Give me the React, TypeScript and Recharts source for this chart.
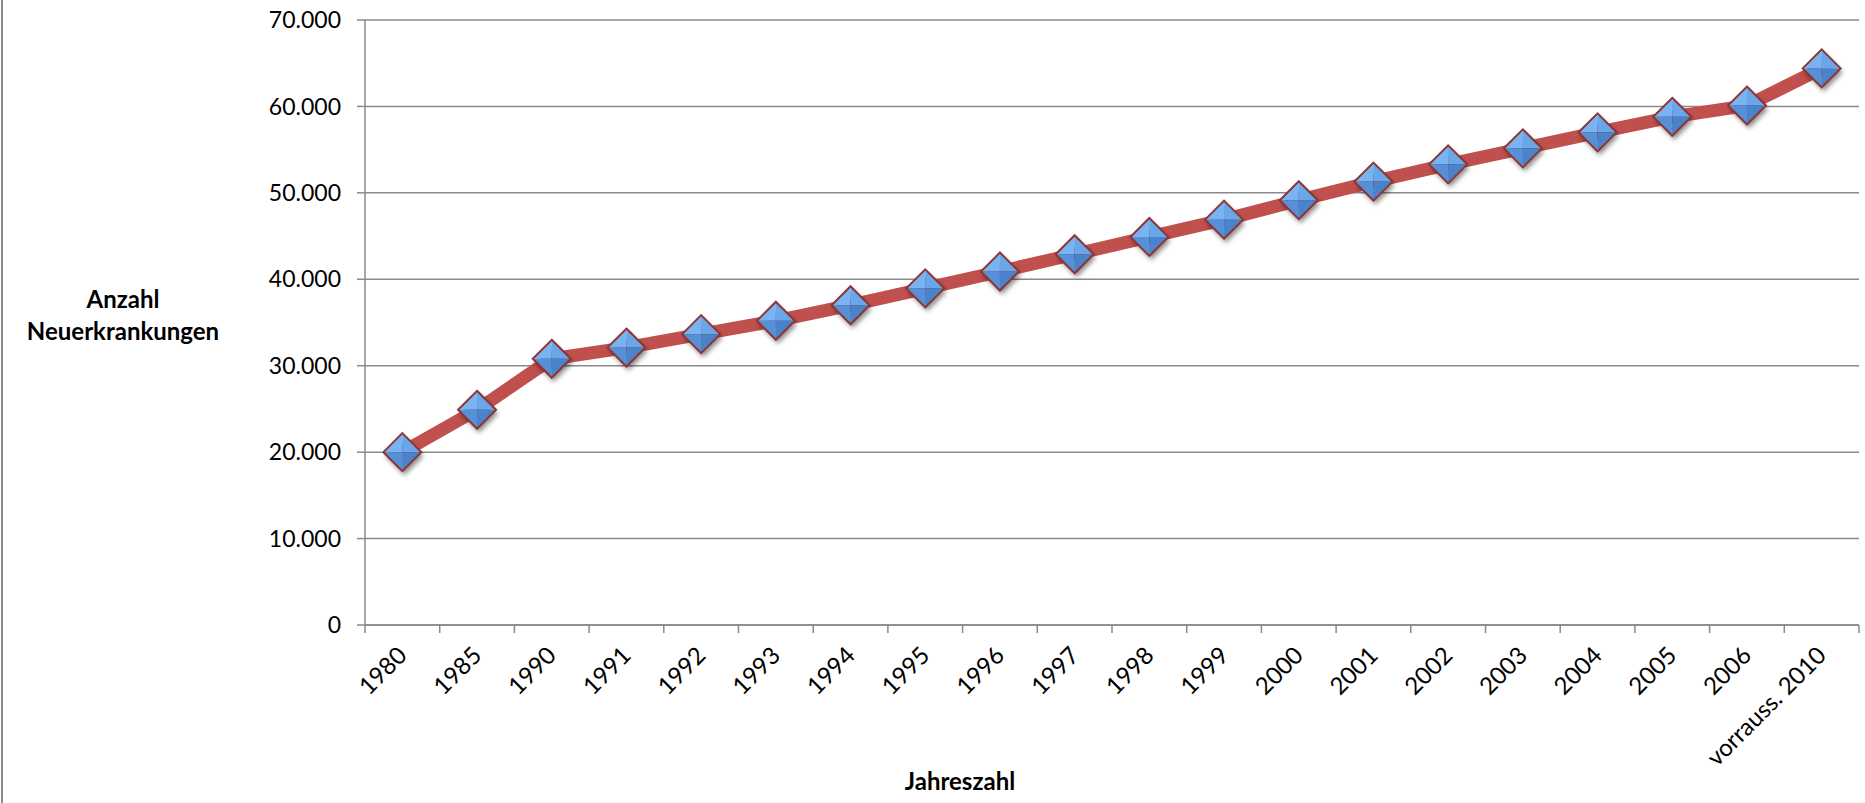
import React from 'react'
import { LineChart, Line, XAxis, YAxis, CartesianGrid } from 'recharts'

// Neuerkrankungen pro Jahr
const years = [
  '1980', '1985', '1990', '1991', '1992', '1993', '1994', '1995', '1996', '1997',
  '1998', '1999', '2000', '2001', '2002', '2003', '2004', '2005', '2006', 'vorrauss. 2010',
]
const cases = [
  20000, 24900, 30800, 32100, 33650, 35200, 37000, 38950, 40900, 42900,
  44900, 46900, 49150, 51300, 53300, 55150, 57000, 58800, 60100, 64400,
]
const yTicks = [0, 10000, 20000, 30000, 40000, 50000, 60000, 70000]

const data = years.map((year, i) => ({ year, cases: cases[i] }))

const W = 1865
const H = 803
const MARGIN = { top: 20, right: 6, bottom: 0, left: 0 }
const Y_AXIS_W = 365
const X_AXIS_H = 178
const AXIS_Y = H - MARGIN.bottom - X_AXIS_H
const BAND = (W - MARGIN.right - MARGIN.left - Y_AXIS_W) / years.length

const GRID = '#8a8a8a'
const FONT = 'Lato, "Open Sans", sans-serif'

const fmt = (v: number) => (v === 0 ? '0' : v.toLocaleString('de-DE'))

const YearTick = (props: any) => {
  const { x, payload, index } = props
  const edges = [x - BAND / 2]
  if (index === years.length - 1) edges.push(x + BAND / 2)
  const ty = AXIS_Y + 26
  return (
    <g>
      {edges.map((e) => (
        <line key={e} x1={e} x2={e} y1={AXIS_Y} y2={AXIS_Y + 8} stroke={GRID} strokeWidth={1.5} />
      ))}
      <text
        x={x}
        y={ty}
        dy="0.35em"
        textAnchor="end"
        fontSize={24}
        fill="#000"
        fontFamily={FONT}
        transform={`rotate(-45 ${x} ${ty})`}
      >
        {payload.value}
      </text>
    </g>
  )
}

const Diamond = (props: any) => {
  const { cx, cy, index } = props
  if (cx == null || cy == null) return null
  const r = 19
  const T = `${cx},${cy - r}`
  const R = `${cx + r},${cy}`
  const B = `${cx},${cy + r}`
  const L = `${cx - r},${cy}`
  const C = `${cx},${cy}`
  return (
    <g key={`d-${index}`}>
      <polygon
        points={`${T} ${R} ${B} ${L}`}
        fill="#000"
        opacity={0.45}
        filter="url(#markerShadow)"
        transform="translate(2 4)"
      />
      <polygon points={`${T} ${L} ${C}`} fill="#78b3f2" />
      <polygon points={`${T} ${R} ${C}`} fill="#6aa6ea" />
      <polygon points={`${L} ${B} ${C}`} fill="#5690d9" />
      <polygon points={`${R} ${B} ${C}`} fill="#4a83cc" />
      <polygon points={`${T} ${R} ${B} ${L}`} fill="none" stroke="#8e3533" strokeWidth={2} />
    </g>
  )
}

export default function App() {
  return (
    <div style={{ position: 'absolute', left: 0, top: 0, width: W, height: H, background: '#fff', fontFamily: FONT }}>
      <svg width={0} height={0} style={{ position: 'absolute' }}>
        <defs>
          <filter id="markerShadow" x="-50%" y="-50%" width="200%" height="200%">
            <feGaussianBlur stdDeviation="2.5" />
          </filter>
        </defs>
      </svg>
      <div style={{ position: 'absolute', left: 1, top: 0, width: 2, height: H, background: GRID }} />
      <LineChart width={W} height={H} data={data} margin={MARGIN}>
        <CartesianGrid vertical={false} stroke={GRID} strokeWidth={1.5} />
        <XAxis
          dataKey="year"
          scale="band"
          interval={0}
          height={X_AXIS_H}
          axisLine={{ stroke: GRID, strokeWidth: 1.5 }}
          tickLine={false}
          tick={<YearTick />}
          label={{
            content: () => (
              <text x={960} y={790} textAnchor="middle" fontSize={24} fontWeight="bold" fill="#000" fontFamily={FONT}>
                Jahreszahl
              </text>
            ),
          }}
        />
        <YAxis
          width={Y_AXIS_W}
          domain={[0, 70000]}
          ticks={yTicks}
          tickFormatter={fmt}
          tickSize={8}
          tickMargin={16}
          axisLine={{ stroke: GRID, strokeWidth: 1.5 }}
          tickLine={{ stroke: GRID, strokeWidth: 1.5 }}
          tick={{ fontSize: 23, fill: '#000', fontFamily: FONT }}
          label={{
            content: () => (
              <text textAnchor="middle" fontSize={24} fontWeight="bold" fill="#000" fontFamily={FONT}>
                <tspan x={123} y={308}>Anzahl</tspan>
                <tspan x={123} y={340}>Neuerkrankungen</tspan>
              </text>
            ),
          }}
        />
        <Line
          type="linear"
          dataKey="cases"
          stroke="#c0504d"
          strokeWidth={13}
          dot={<Diamond />}
          activeDot={false}
          isAnimationActive={false}
        />
      </LineChart>
    </div>
  )
}
